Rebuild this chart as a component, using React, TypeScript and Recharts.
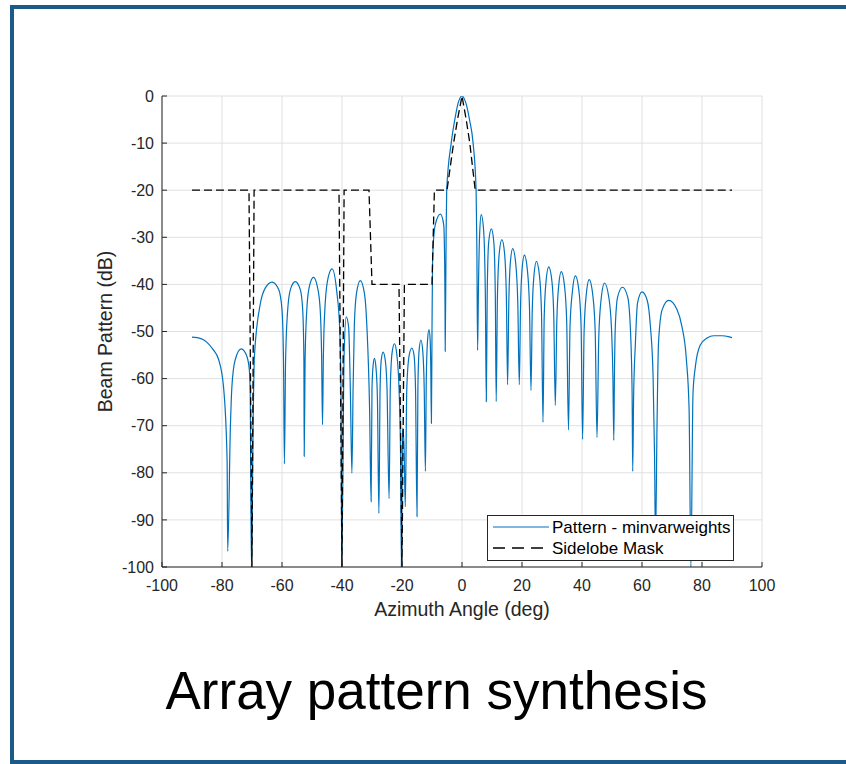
import React from 'react';
import { LineChart, Line, XAxis, YAxis, CartesianGrid, Legend } from 'recharts';

// Beam pattern (deg, dB)
const patternAngles = [
  -90, -87, -85, -83, -81.1, -79.5, -78.3, -78.1, -77.2, -76.7, -75.6, -73.6, -71.7, -70.9, -70.6, -70.2,
  -69.6, -69.2, -67.2, -65.6, -63.3, -61.1, -60, -59.5, -59.2,
  -58.8, -58.1, -57.2, -55.6, -53.9, -53.1, -52.7, -52.6,
  -52.3, -51.7, -50.9, -49.5, -48.2, -47.3, -46.8, -46.5,
  -46.2, -45.6, -44.6, -43.3, -41.7, -40.8, -40.3, -40.1,
  -39.3, -38.6, -37.8, -37.2, -36.7,
  -36.3, -35.9, -35.2, -33.9, -32.5, -31.7, -30.8, -30.3,
  -30, -29.6, -29.2, -28.7, -28.2, -27.7,
  -27.3, -26.9, -26.3, -25.6, -25, -24.3,
  -23.9, -23.3, -22.5, -21.8, -21, -20.5, -20.2,
  -19.9, -19.7, -19.3, -18.9,
  -18.4, -17.6, -16.7, -16, -15.5, -15,
  -14.7, -14.3, -13.7, -13.1, -12.6, -12.2,
  -11.9, -11.5, -11, -10.6, -10.4, -10.2,
  -10, -9.8, -8.9, -7.2, -6.1, -5.8, -5.65, -5.6,
  -5.3, -5.1, -3.6, -2.4, -1.2, 0, 1.2, 2.5, 3.7, 4.7, 4.95, 5.2,
  5.5, 5.9, 6.4, 7.2, 7.8, 8.1,
  8.4, 8.9, 9.8, 10.6, 11.1, 11.4,
  11.8, 12.4, 13.3, 14.2, 14.8, 15.2,
  15.6, 16.1, 16.9, 17.9, 18.6, 19.1,
  19.5, 20, 20.8, 21.8, 22.5, 23,
  23.4, 24, 24.8, 25.8, 26.5, 27,
  27.4, 28, 28.9, 30, 30.6, 31.1,
  31.6, 32.2, 33.1, 34.2, 34.9, 35.5,
  36, 36.8, 37.8, 39, 39.7, 40.2,
  40.7, 41.4, 42.4, 43.6, 44.4, 45,
  45.6, 46.4, 47.5, 48.9, 49.8, 50.3, 50.6,
  50.8, 51.1, 51.9, 53.5, 55.2, 56.1, 56.7, 56.9,
  57.2, 57.8, 58.5, 60, 61.7, 62.8, 63.7, 64.2, 64.5,
  65, 65.5, 66.7, 68.9, 71.7, 73.3, 74.8, 75.7, 76.3,
  77, 77.8, 79.4, 81.7, 83.9, 86.7, 89.4, 90,
];
const patternDb = [
  -51.2, -51.5, -52.3, -53.8, -56, -61.7, -77.2, -96.7, -70.2, -61.7, -56, -53.7, -55.3, -58.1, -63.1, -100,
  -68, -55.3, -44, -40.8, -39.5, -41.1, -45.4, -56, -78.1,
  -56, -45.4, -41.1, -39.4, -41.1, -45.4, -56, -76.5,
  -56, -45, -40.5, -38.5, -40.5, -45, -55, -69.8,
  -55, -44, -38.5, -36.7, -41.8, -49, -65, -100,
  -55, -46.9, -49, -63, -80.1,
  -62, -49, -42, -39.2, -42, -49, -66.6, -86.1,
  -62, -57, -55.7, -57.5, -64, -88.6,
  -62, -56, -54.4, -56, -62, -85.5,
  -62, -54.5, -52.6, -54.5, -62, -75, -100,
  -75, -70.5, -75, -87.2,
  -62, -55, -53.5, -55, -62, -89.3,
  -62, -54, -51.8, -54, -62, -79.7,
  -60, -52, -49.6, -52, -58, -69.5,
  -50, -34.4, -27.3, -25.1, -27.3, -34.4, -45, -54.2,
  -30, -20, -10, -5, -1.3, 0, -1.3, -5, -10, -20, -32, -54,
  -40, -29, -25.2, -28.4, -43, -64.9,
  -42, -31, -28.2, -31, -42, -64.9,
  -43, -33.5, -30.5, -33.5, -43, -61.3,
  -44, -35.5, -32.4, -35.5, -44, -61.3,
  -45, -37, -33.8, -37, -45, -62.5,
  -46, -38, -35.1, -38, -46, -69.3,
  -47, -39.5, -36.3, -39.5, -47, -65.7,
  -48, -40.5, -37.3, -40.5, -48, -70.9,
  -49, -41.5, -38.2, -41.5, -49, -72.9,
  -50, -42.3, -39, -42.3, -50, -72.5,
  -51, -43, -39.7, -42.6, -49, -59.6, -73.1,
  -60, -49, -42.6, -40.6, -42.6, -49, -63, -79.7,
  -64, -52.5, -44, -41.6, -43.3, -48.9, -59.6, -77, -95,
  -70.2, -52.5, -45.4, -43.4, -45.4, -48.9, -56, -66.6, -100,
  -63.1, -57.4, -52.9, -51.4, -50.9, -50.9, -51.2, -51.3,
];

// Sidelobe mask (deg, dB)
const maskAngles = [-90, -71, -70, -69.3, -41, -40, -39.3, -31, -30, -21, -20, -19.2, -10, -9.2, -5, -2.8, -1.5, 0, 1.4, 2.6, 4.4, 90];
const maskDb = [-20, -20, -100, -20, -20, -100, -20, -20, -40, -40, -100, -40, -40, -20, -20, -10, -5, 0, -5, -10, -20, -20];

const xTicks = [-100, -80, -60, -40, -20, 0, 20, 40, 60, 80, 100];
const yTicks = [-100, -90, -80, -70, -60, -50, -40, -30, -20, -10, 0];

const patternData = patternAngles.map((x, i) => ({ x, y: patternDb[i] }));
const maskData = maskAngles.map((x, i) => ({ x, y: maskDb[i] }));

const FONT = '"Liberation Sans", Arial, Helvetica, sans-serif';
const AXIS_COLOR = '#262626';
const GRID_COLOR = '#e0e0e0';
const PATTERN_COLOR = '#0072BD';

const LegendBox = () => (
  <div
    style={{
      width: 247,
      height: 46,
      boxSizing: 'border-box',
      border: `1px solid ${AXIS_COLOR}`,
      background: '#fff',
      position: 'relative',
    }}
  >
    <svg width={247} height={46} style={{ position: 'absolute', left: -1, top: -1 }}>
      <line x1={6} x2={62} y1={12} y2={12} stroke={PATTERN_COLOR} strokeWidth={1.2} />
      <line x1={6} x2={62} y1={33} y2={33} stroke="#000" strokeWidth={1.3} strokeDasharray="12 7" />
      <text x={65} y={18} fontFamily={FONT} fontSize={17} fill="#000">Pattern - minvarweights</text>
      <text x={65} y={39} fontFamily={FONT} fontSize={17} fill="#000">Sidelobe Mask</text>
    </svg>
  </div>
);

const App: React.FC = () => {
  return (
    <div
      style={{
        position: 'absolute',
        left: 0,
        top: 0,
        width: 846,
        height: 764,
        overflow: 'hidden',
        background: '#fff',
        fontFamily: FONT,
      }}
    >
      <div
        style={{
          position: 'absolute',
          left: 10,
          top: 5,
          width: 900,
          height: 759,
          boxSizing: 'border-box',
          border: '4px solid #1c5a89',
        }}
      />
      <div style={{ position: 'absolute', left: 0, top: 0 }}>
        <LineChart
          width={846}
          height={764}
          margin={{ top: 96, right: 84, bottom: 147, left: 92 }}
          style={{ fontFamily: FONT }}
        >
          <CartesianGrid stroke={GRID_COLOR} strokeWidth={1} />
          <XAxis
            dataKey="x"
            type="number"
            domain={[-100, 100]}
            ticks={xTicks}
            allowDataOverflow
            height={50}
            stroke={AXIS_COLOR}
            tickSize={-5}
            tickMargin={18}
            tick={{ fill: AXIS_COLOR, fontSize: 16 }}
            label={{ value: 'Azimuth Angle (deg)', position: 'insideBottom', offset: 1, fill: AXIS_COLOR, fontSize: 19.5 }}
          />
          <XAxis
            xAxisId="top"
            orientation="top"
            type="number"
            domain={[-100, 100]}
            ticks={xTicks}
            height={0}
            stroke={AXIS_COLOR}
            tickSize={-5}
            tick={false}
          />
          <YAxis
            type="number"
            domain={[-100, 0]}
            ticks={yTicks}
            allowDataOverflow
            width={70}
            stroke={AXIS_COLOR}
            tickSize={-5}
            tickMargin={13}
            tick={{ fill: AXIS_COLOR, fontSize: 16 }}
            label={{
              value: 'Beam Pattern (dB)',
              angle: -90,
              position: 'insideLeft',
              offset: 13,
              fill: AXIS_COLOR,
              fontSize: 19.5,
              style: { textAnchor: 'middle' },
            }}
          />
          <YAxis
            yAxisId="right"
            orientation="right"
            type="number"
            domain={[-100, 0]}
            ticks={yTicks}
            width={0}
            stroke={AXIS_COLOR}
            tickSize={-5}
            tick={false}
          />
          <Line
            data={patternData}
            dataKey="y"
            name="Pattern - minvarweights"
            type="monotone"
            stroke={PATTERN_COLOR}
            strokeWidth={1.2}
            dot={false}
            activeDot={false}
            isAnimationActive={false}
          />
          <Line
            data={maskData}
            dataKey="y"
            name="Sidelobe Mask"
            type="linear"
            stroke="#000"
            strokeWidth={1.3}
            strokeDasharray="8 4"
            dot={false}
            activeDot={false}
            isAnimationActive={false}
          />
          <Legend
            layout="vertical"
            align="center"
            verticalAlign="middle"
            content={() => <LegendBox />}
            wrapperStyle={{ position: 'absolute', left: 487, top: 515, width: 247, height: 46 }}
          />
        </LineChart>
      </div>
      <div
        style={{
          position: 'absolute',
          left: 0,
          top: 663,
          width: 873,
          textAlign: 'center',
          fontSize: 53,
          lineHeight: '56px',
          color: '#000',
          fontFamily: FONT,
        }}
      >
        Array pattern synthesis
      </div>
    </div>
  );
};

export default App;
